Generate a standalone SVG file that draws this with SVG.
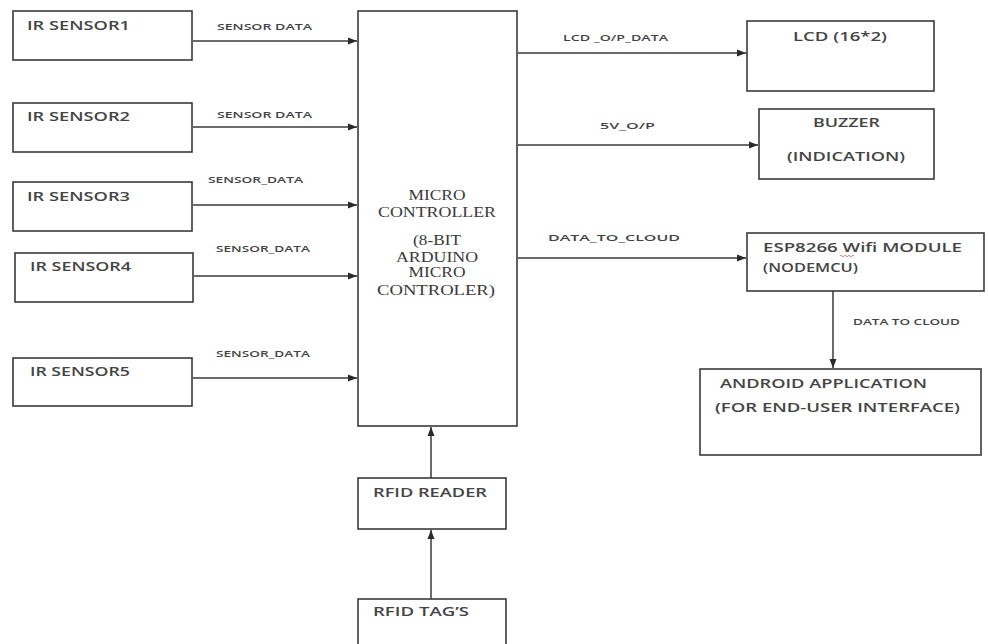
<svg xmlns="http://www.w3.org/2000/svg" width="988" height="644" viewBox="0 0 988 644">
<style>
.box{fill:#fff;stroke:#3a3a3a;stroke-width:1.6}
.ln{fill:none;stroke:#3a3a3a;stroke-width:1.5}
.t{font-family:"Open Sans","Liberation Sans",sans-serif;fill:#444;font-size:12.5px;font-weight:600}
.s{font-family:"Open Sans","Liberation Sans",sans-serif;fill:#444;font-size:9.5px;font-weight:600}
.m{font-family:"Liberation Serif","DejaVu Serif",serif;fill:#3a3a3a;font-size:15px;text-anchor:middle}
</style>
<defs>
<marker id="ah" markerWidth="10" markerHeight="8" refX="9" refY="4" orient="auto" markerUnits="userSpaceOnUse">
<path d="M0,0.5 L9,4 L0,7.5 z" fill="#2a2a2a"/>
</marker>
</defs>
<rect width="988" height="644" fill="#fff"/>

<g id="connectors">
<line class="ln" x1="193" y1="41" x2="357" y2="41" marker-end="url(#ah)"/>
<line class="ln" x1="193" y1="127" x2="357" y2="127" marker-end="url(#ah)"/>
<line class="ln" x1="193" y1="205" x2="357" y2="205" marker-end="url(#ah)"/>
<line class="ln" x1="194" y1="276" x2="357" y2="276" marker-end="url(#ah)"/>
<line class="ln" x1="193" y1="378" x2="357" y2="378" marker-end="url(#ah)"/>
<line class="ln" x1="518" y1="53" x2="746" y2="53" marker-end="url(#ah)"/>
<line class="ln" x1="518" y1="145" x2="758" y2="145" marker-end="url(#ah)"/>
<line class="ln" x1="518" y1="258" x2="746" y2="258" marker-end="url(#ah)"/>
<line class="ln" x1="833" y1="291" x2="833" y2="368" marker-end="url(#ah)"/>
<line class="ln" x1="431" y1="478" x2="431" y2="427" marker-end="url(#ah)"/>
<line class="ln" x1="431" y1="599" x2="431" y2="530" marker-end="url(#ah)"/>
<text class="s" x="217" y="30" textLength="95" lengthAdjust="spacingAndGlyphs">SENSOR  DATA</text>
<text class="s" x="217" y="118" textLength="95" lengthAdjust="spacingAndGlyphs">SENSOR  DATA</text>
<text class="s" x="208" y="183" textLength="95" lengthAdjust="spacingAndGlyphs">SENSOR_DATA</text>
<text class="s" x="216" y="252" textLength="94" lengthAdjust="spacingAndGlyphs">SENSOR_DATA</text>
<text class="s" x="216" y="357" textLength="94" lengthAdjust="spacingAndGlyphs">SENSOR_DATA</text>
<text class="s" x="563" y="41" font-size="10" textLength="105" lengthAdjust="spacingAndGlyphs">LCD _O/P_DATA</text>
<text class="s" x="600" y="129" font-size="10" textLength="55" lengthAdjust="spacingAndGlyphs">5V_O/P</text>
<text class="s" x="548" y="241" font-size="10" textLength="132" lengthAdjust="spacingAndGlyphs">DATA_TO_CLOUD</text>
<text class="s" x="853" y="325" font-size="8.5" textLength="107" lengthAdjust="spacingAndGlyphs">DATA TO CLOUD</text>
</g>

<g id="ir1"><rect class="box" x="13" y="11" width="179" height="49"/><text class="t" x="27" y="30" textLength="103" lengthAdjust="spacingAndGlyphs">IR SENSOR1</text></g>
<g id="ir2"><rect class="box" x="13" y="103" width="179" height="49"/><text class="t" x="27" y="121" textLength="103" lengthAdjust="spacingAndGlyphs">IR SENSOR2</text></g>
<g id="ir3"><rect class="box" x="13" y="182" width="179" height="49"/><text class="t" x="27" y="201" textLength="103" lengthAdjust="spacingAndGlyphs">IR SENSOR3</text></g>
<g id="ir4"><rect class="box" x="15" y="253" width="178" height="49"/><text class="t" x="30" y="271" textLength="101" lengthAdjust="spacingAndGlyphs">IR SENSOR4</text></g>
<g id="ir5"><rect class="box" x="13" y="358" width="179" height="48"/><text class="t" x="30" y="376" textLength="100" lengthAdjust="spacingAndGlyphs">IR SENSOR5</text></g>

<g id="mcu"><rect class="box" x="358" y="11" width="159" height="415"/>
<text class="m" x="437" y="200" textLength="57" lengthAdjust="spacingAndGlyphs">MICRO</text>
<text class="m" x="437" y="217" textLength="118" lengthAdjust="spacingAndGlyphs">CONTROLLER</text>
<text class="m" x="437" y="245" textLength="48" lengthAdjust="spacingAndGlyphs">(8-BIT</text>
<text class="m" x="437" y="262" textLength="82" lengthAdjust="spacingAndGlyphs">ARDUINO</text>
<text class="m" x="437" y="277" textLength="57" lengthAdjust="spacingAndGlyphs">MICRO</text>
<text class="m" x="436" y="295" textLength="118" lengthAdjust="spacingAndGlyphs">CONTROLER)</text>
</g>

<g id="lcd"><rect class="box" x="747" y="21" width="187" height="70"/><text class="t" x="793" y="41" textLength="94" lengthAdjust="spacingAndGlyphs">LCD (16*2)</text></g>
<g id="buzzer"><rect class="box" x="759" y="109" width="175" height="70"/><text class="t" x="813" y="127" textLength="67" lengthAdjust="spacingAndGlyphs">BUZZER</text><text class="t" x="787" y="161" textLength="118" lengthAdjust="spacingAndGlyphs">(INDICATION)</text></g>
<g id="esp"><rect class="box" x="747" y="233" width="237" height="58"/><text class="t" x="763" y="252" textLength="199" lengthAdjust="spacingAndGlyphs">ESP8266 Wifi MODULE</text><text class="t" x="763" y="272" textLength="95" lengthAdjust="spacingAndGlyphs">(NODEMCU)</text>
<path d="M840,256 q1,-1.5 2,0 t2,0 t2,0 t2,0 t2,0 t2,0 t2,0" fill="none" stroke="#e06060" stroke-width="0.8"/></g>
<g id="android"><rect class="box" x="700" y="369" width="281" height="86"/><text class="t" x="720" y="388" textLength="207" lengthAdjust="spacingAndGlyphs">ANDROID APPLICATION</text><text class="t" x="715" y="412" textLength="245" lengthAdjust="spacingAndGlyphs">(FOR END-USER INTERFACE)</text></g>
<g id="rfid-reader"><rect class="box" x="358" y="478" width="148" height="51"/><text class="t" x="373" y="497" textLength="114" lengthAdjust="spacingAndGlyphs">RFID READER</text></g>
<g id="rfid-tags"><rect class="box" x="358" y="599" width="148" height="60"/><text class="t" x="373" y="616" textLength="96" lengthAdjust="spacingAndGlyphs">RFID TAG’S</text></g>
</svg>
